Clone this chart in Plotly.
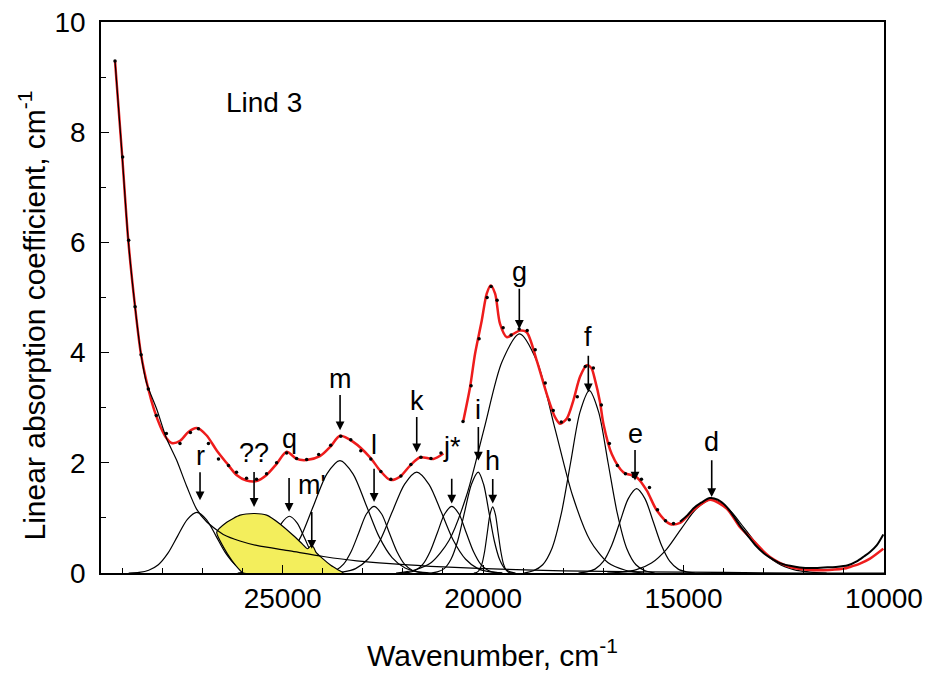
import plotly.graph_objects as go

# ---------------- data ----------------
# absorption edge (baseline) component
edge_x = [29180, 29000, 28850, 28680, 28530, 28394, 28144, 27895, 27645, 27396, 27146, 26896,
          26643, 26480, 26064, 25648, 24815, 23983, 23152, 22320, 21000, 19577, 18000, 16000,
          14000, 12000, 10000]
edge_y = [9.29, 7.55, 6.04, 4.83, 3.96, 3.45, 2.98, 2.44, 2.05, 1.58, 1.16, 0.93,
          0.78, 0.70, 0.58, 0.50, 0.40, 0.30, 0.22, 0.17, 0.11, 0.07, 0.04, 0.02,
          0.01, 0.0, 0.0]

# Gaussian-like band components (x, y)
r_x = [25440, 25700, 25940, 26180, 26420, 26660, 26900, 27140, 27380, 27620, 27860, 28100, 28340, 28580, 28840]
r_y = [0.0, 0.01, 0.05, 0.15, 0.36, 0.67, 0.97, 1.10, 0.97, 0.67, 0.36, 0.15, 0.05, 0.01, 0.0]

q_x = [23540, 23690, 23880, 24070, 24260, 24450, 24640, 24830, 25020, 25210, 25400, 25590, 25780, 25970, 26120]
q_y = [0.0, 0.01, 0.05, 0.14, 0.33, 0.63, 0.91, 1.03, 0.91, 0.63, 0.33, 0.14, 0.05, 0.01, 0.0]

m_x = [21300, 21620, 21945, 22270, 22595, 22920, 23245, 23570, 23895, 24220, 24545, 24870, 25195, 25520, 25840]
m_y = [0.0, 0.02, 0.09, 0.28, 0.66, 1.24, 1.80, 2.04, 1.80, 1.24, 0.66, 0.28, 0.09, 0.02, 0.0]

l_x = [21390, 21580, 21770, 21960, 22150, 22340, 22530, 22720, 22910, 23100, 23290, 23480, 23670, 23860, 24050]
l_y = [0.0, 0.01, 0.05, 0.16, 0.39, 0.73, 1.07, 1.21, 1.07, 0.73, 0.39, 0.16, 0.05, 0.01, 0.0]

k_x = [19520, 19825, 20130, 20435, 20740, 21045, 21350, 21655, 21960, 22265, 22570, 22875, 23180, 23485, 23790]
k_y = [0.0, 0.02, 0.08, 0.25, 0.59, 1.11, 1.61, 1.83, 1.61, 1.11, 0.59, 0.25, 0.08, 0.02, 0.0]

j_x = [19520, 19700, 19880, 20060, 20240, 20420, 20600, 20780, 20960, 21140, 21320, 21500, 21680, 21860, 22040]
j_y = [0.0, 0.01, 0.05, 0.16, 0.39, 0.73, 1.07, 1.21, 1.07, 0.73, 0.39, 0.16, 0.05, 0.01, 0.0]

i_x = [19190, 19325, 19457, 19590, 19722, 19855, 19987, 20120, 20290, 20460, 20630, 20800, 20970, 21140, 21310]
i_y = [0.0, 0.02, 0.08, 0.25, 0.59, 1.11, 1.61, 1.83, 1.61, 1.11, 0.59, 0.25, 0.08, 0.02, 0.0]

h_x = [19290, 19355, 19422, 19490, 19557, 19625, 19692, 19760, 19828, 19895, 19962, 20030, 20098, 20165, 20230]
h_y = [0.0, 0.01, 0.05, 0.16, 0.39, 0.73, 1.06, 1.20, 1.06, 0.73, 0.39, 0.16, 0.05, 0.01, 0.0]

g_x = [16010, 16450, 16890, 17330, 17770, 18210, 18650, 19090, 19530, 19970, 20410, 20850, 21290, 21730, 22170]
g_y = [0.0, 0.05, 0.19, 0.59, 1.41, 2.63, 3.83, 4.34, 3.83, 2.63, 1.41, 0.59, 0.19, 0.05, 0.0]

f_x = [15720, 15955, 16187, 16420, 16652, 16885, 17117, 17350, 17583, 17815, 18048, 18280, 18513, 18745, 18980]
f_y = [0.0, 0.04, 0.15, 0.45, 1.08, 2.01, 2.92, 3.31, 2.92, 2.01, 1.08, 0.45, 0.15, 0.04, 0.0]

e_x = [14720, 14925, 15133, 15340, 15548, 15755, 15963, 16170, 16378, 16585, 16793, 17000, 17208, 17415, 17620]
e_y = [0.0, 0.02, 0.07, 0.21, 0.50, 0.93, 1.35, 1.53, 1.35, 0.93, 0.50, 0.21, 0.07, 0.02, 0.0]

d_x = [11430, 11840, 12250, 12660, 13070, 13480, 13890, 14300, 14675, 15050, 15425, 15800, 16175, 16550, 16900]
d_y = [0.0, 0.015, 0.06, 0.18, 0.43, 0.81, 1.17, 1.33, 1.17, 0.81, 0.43, 0.18, 0.06, 0.015, 0.0]

# yellow "??" band outline (with small m' bump)
qq_x = [25980, 26102, 26268, 26476, 26643, 26394, 26062, 25700, 25397, 25065, 24732, 24500,
        24380, 24300, 24230, 24170, 24000, 23800, 23600, 23485, 25980]
qq_y = [0.0, 0.08, 0.23, 0.47, 0.74, 0.92, 1.05, 1.08, 1.05, 0.89, 0.68, 0.52,
        0.44, 0.49, 0.47, 0.38, 0.26, 0.14, 0.05, 0.0, 0.0]

# total fit (red), two segments
fit1_x = [29180, 29000, 28850, 28680, 28530, 28350, 28200, 28050, 27900, 27770, 27557, 27350,
          27140, 26900, 26640, 26400, 26150, 25900, 25650, 25400, 25150, 24900, 24650, 24400,
          24070, 23800, 23570, 23240, 22820, 22570, 22320, 22070, 21820, 21570, 21240, 20990]
fit1_y = [9.29, 7.55, 6.04, 4.83, 3.96, 3.34, 2.95, 2.66, 2.45, 2.36, 2.40, 2.56,
          2.63, 2.50, 2.22, 2.00, 1.78, 1.68, 1.67, 1.78, 1.98, 2.20, 2.07, 2.05,
          2.12, 2.30, 2.49, 2.38, 2.10, 1.86, 1.69, 1.75, 1.95, 2.10, 2.07, 2.17]
fit2_x = [20490, 20325, 20200, 20034, 19909, 19810, 19700, 19577, 19410, 19244, 19078, 18912,
          18663, 18413, 18206, 18081, 17915, 17749, 17582, 17416, 17300, 17207, 17083, 16999,
          16791, 16502, 16169, 15919, 15670, 15337, 15088, 14756, 14340, 13925, 13591, 13342,
          12843, 12344, 11900, 11513, 11000, 10848, 10600, 10349, 10017]
fit2_y = [2.77, 3.37, 3.98, 4.58, 5.07, 5.22, 5.07, 4.52, 4.28, 4.34, 4.40, 4.37,
          3.86, 3.25, 2.83, 2.71, 2.80, 3.13, 3.56, 3.77, 3.72, 3.50, 3.10, 2.71,
          2.16, 1.83, 1.74, 1.50, 1.14, 0.89, 0.91, 1.14, 1.33, 1.17, 0.83, 0.65,
          0.29, 0.11, 0.06, 0.05, 0.08, 0.11, 0.17, 0.26, 0.44]

# measured data points (sparse dots)
dat_x = [29180, 28990, 28840, 28680, 28530, 28350, 28150, 27900, 27560, 27300, 27100, 26850,
         26600, 26350, 26150, 25900, 25650, 25400, 25150, 24900, 24650, 24400, 24100, 23800,
         23550, 23300, 23050, 22800, 22550, 22300, 22050, 21800, 21550, 21300, 21050,
         20500, 20300, 20100, 19900, 19800, 19650, 19500, 19300, 19100, 18900, 18700, 18450,
         18250, 18050, 17850, 17650, 17450, 17250, 17050, 16850, 16650, 16450, 16250, 16050,
         15850, 15650, 15450, 15250]
dat_y = [9.29, 7.55, 6.04, 4.83, 3.96, 3.34, 2.86, 2.53, 2.35, 2.55, 2.62, 2.35,
         2.07, 1.95, 1.83, 1.72, 1.70, 1.80, 2.00, 2.18, 2.08, 2.06, 2.15, 2.32,
         2.48, 2.42, 2.22, 2.07, 1.84, 1.70, 1.76, 1.97, 2.10, 2.08, 2.18,
         2.75, 3.40, 4.25, 5.00, 5.20, 4.95, 4.45, 4.32, 4.43, 4.40, 4.05, 3.45,
         2.95, 2.74, 2.78, 3.20, 3.75, 3.72, 3.05, 2.35, 1.95, 1.80, 1.75, 1.70,
         1.55, 1.15, 0.95, 0.90]
# dense measured tail (appears as a thick black line)
tail_x = [15088, 14900, 14756, 14550, 14340, 14150, 13925, 13750, 13591, 13400, 13200, 13000,
          12843, 12600, 12344, 12100, 11800, 11500, 11200, 10900, 10682, 10500, 10350, 10183, 10017]
tail_y = [0.93, 1.05, 1.17, 1.28, 1.36, 1.33, 1.20, 1.03, 0.86, 0.68, 0.50, 0.36,
          0.28, 0.18, 0.13, 0.10, 0.09, 0.10, 0.11, 0.14, 0.21, 0.30, 0.38, 0.50, 0.70]

# band labels: text, arrow tip (x, y), label y, gap between label and arrow start (px)
lab_text = ["r", "??", "q", "m'", "m", "l", "k", "j*", "i", "h", "g", "f", "e", "d"]
lab_x = [27060, 25712, 24839, 24273, 23567, 22719, 21655, 20782, 20118, 19759, 19096, 17375, 16210, 14297]
lab_tip_y = [1.32, 1.20, 1.11, 0.44, 2.59, 1.29, 2.19, 1.26, 2.04, 1.26, 4.43, 3.28, 1.68, 1.38]
lab_y = [2.13, 2.17, 2.44, 1.59, 3.53, 2.32, 3.13, 2.28, 2.95, 2.04, 5.46, 4.28, 2.53, 2.38]
lab_gap = [0, 2, 23, 10, 0, 7, 0, 15, 0, 2, 0, 2, 0, 2]

# ---------------- figure ----------------
fig = go.Figure()
comp_style = dict(color="black", width=1.2)
for cx, cy in [(r_x, r_y), (q_x, q_y), (m_x, m_y), (l_x, l_y), (k_x, k_y), (j_x, j_y),
               (i_x, i_y), (h_x, h_y), (g_x, g_y), (f_x, f_y), (e_x, e_y), (d_x, d_y)]:
    fig.add_trace(go.Scatter(x=cx, y=cy, mode="lines", line=dict(shape="spline", smoothing=0.8, **comp_style),
                             hoverinfo="skip"))

fig.add_trace(go.Scatter(x=qq_x, y=qq_y, mode="lines", fill="toself", fillcolor="#f3ee5c",
                         line=dict(color="black", width=1.2, shape="spline", smoothing=0.6), hoverinfo="skip"))

fig.add_trace(go.Scatter(x=fit1_x, y=fit1_y, mode="lines",
                         line=dict(color="#ee1c1c", width=2.5, shape="spline", smoothing=0.8)))
fig.add_trace(go.Scatter(x=fit2_x, y=fit2_y, mode="lines",
                         line=dict(color="#ee1c1c", width=2.5, shape="spline", smoothing=0.8)))

fig.add_trace(go.Scatter(x=edge_x, y=edge_y, mode="lines",
                         line=dict(color="black", width=1.2, shape="spline", smoothing=0.8)))

fig.add_trace(go.Scatter(x=tail_x, y=tail_y, mode="lines",
                         line=dict(color="black", width=2, shape="spline", smoothing=0.8)))
fig.add_trace(go.Scatter(x=dat_x, y=dat_y, mode="markers",
                         marker=dict(color="black", size=3.5)))

FONT = "Liberation Sans, Arial, sans-serif"
ann = []
for t, x, ty, ly, gap in zip(lab_text, lab_x, lab_tip_y, lab_y, lab_gap):
    ann.append(dict(x=x, y=ty, xref="x", yref="y", text=t, showarrow=True,
                    ax=x, ay=ly, axref="x", ayref="y", startstandoff=gap,
                    arrowhead=2, arrowsize=1.1, arrowwidth=1.6, arrowcolor="black",
                    font=dict(family=FONT, size=27, color="black")))
ann.append(dict(x=25463, y=8.54, xref="x", yref="y", text="Lind 3", showarrow=False,
                font=dict(family=FONT, size=28, color="black")))
# axis titles
ann.append(dict(x=0.5, y=0, xref="paper", yref="paper", text="Wavenumber, cm<sup>-1</sup>",
                showarrow=False, xanchor="center", yanchor="middle", yshift=-80,
                font=dict(family=FONT, size=30, color="black")))
ann.append(dict(x=0, y=0.5, xref="paper", yref="paper",
                text="Linear absorption coefficient, cm<sup>-1</sup>",
                showarrow=False, xanchor="center", yanchor="middle", textangle=-90,
                xshift=-69, yshift=-18,
                font=dict(family=FONT, size=30, color="black")))

fig.update_layout(
    width=930, height=674,
    margin=dict(l=101, r=46, t=22, b=101, autoexpand=False),
    paper_bgcolor="white", plot_bgcolor="white",
    showlegend=False,
    annotations=ann,
    font=dict(family=FONT, size=28, color="black"),
)
fig.update_xaxes(range=[29530, 10000], tickvals=[25000, 20000, 15000, 10000],
                 ticktext=["25000", "20000", "15000", "10000"],
                 ticks="inside", ticklen=8, tickwidth=1.2, tickcolor="black",
                 minor=dict(dtick=1000, ticks="inside", ticklen=5, tickcolor="black", tick0=10000),
                 showline=True, linecolor="black", linewidth=1.5, mirror=True,
                 showgrid=False, zeroline=False, automargin=False,
                 tickfont=dict(family=FONT, size=28))
fig.update_yaxes(range=[0, 10], tickvals=[0, 2, 4, 6, 8, 10],
                 ticks="inside", ticklen=8, tickwidth=1.2, tickcolor="black",
                 minor=dict(dtick=1, ticks="inside", ticklen=5, tickcolor="black"),
                 showline=True, linecolor="black", linewidth=1.5, mirror=True,
                 showgrid=False, zeroline=False, ticklabelstandoff=8, automargin=False,
                 tickfont=dict(family=FONT, size=28))

fig.write_html("out.html")
